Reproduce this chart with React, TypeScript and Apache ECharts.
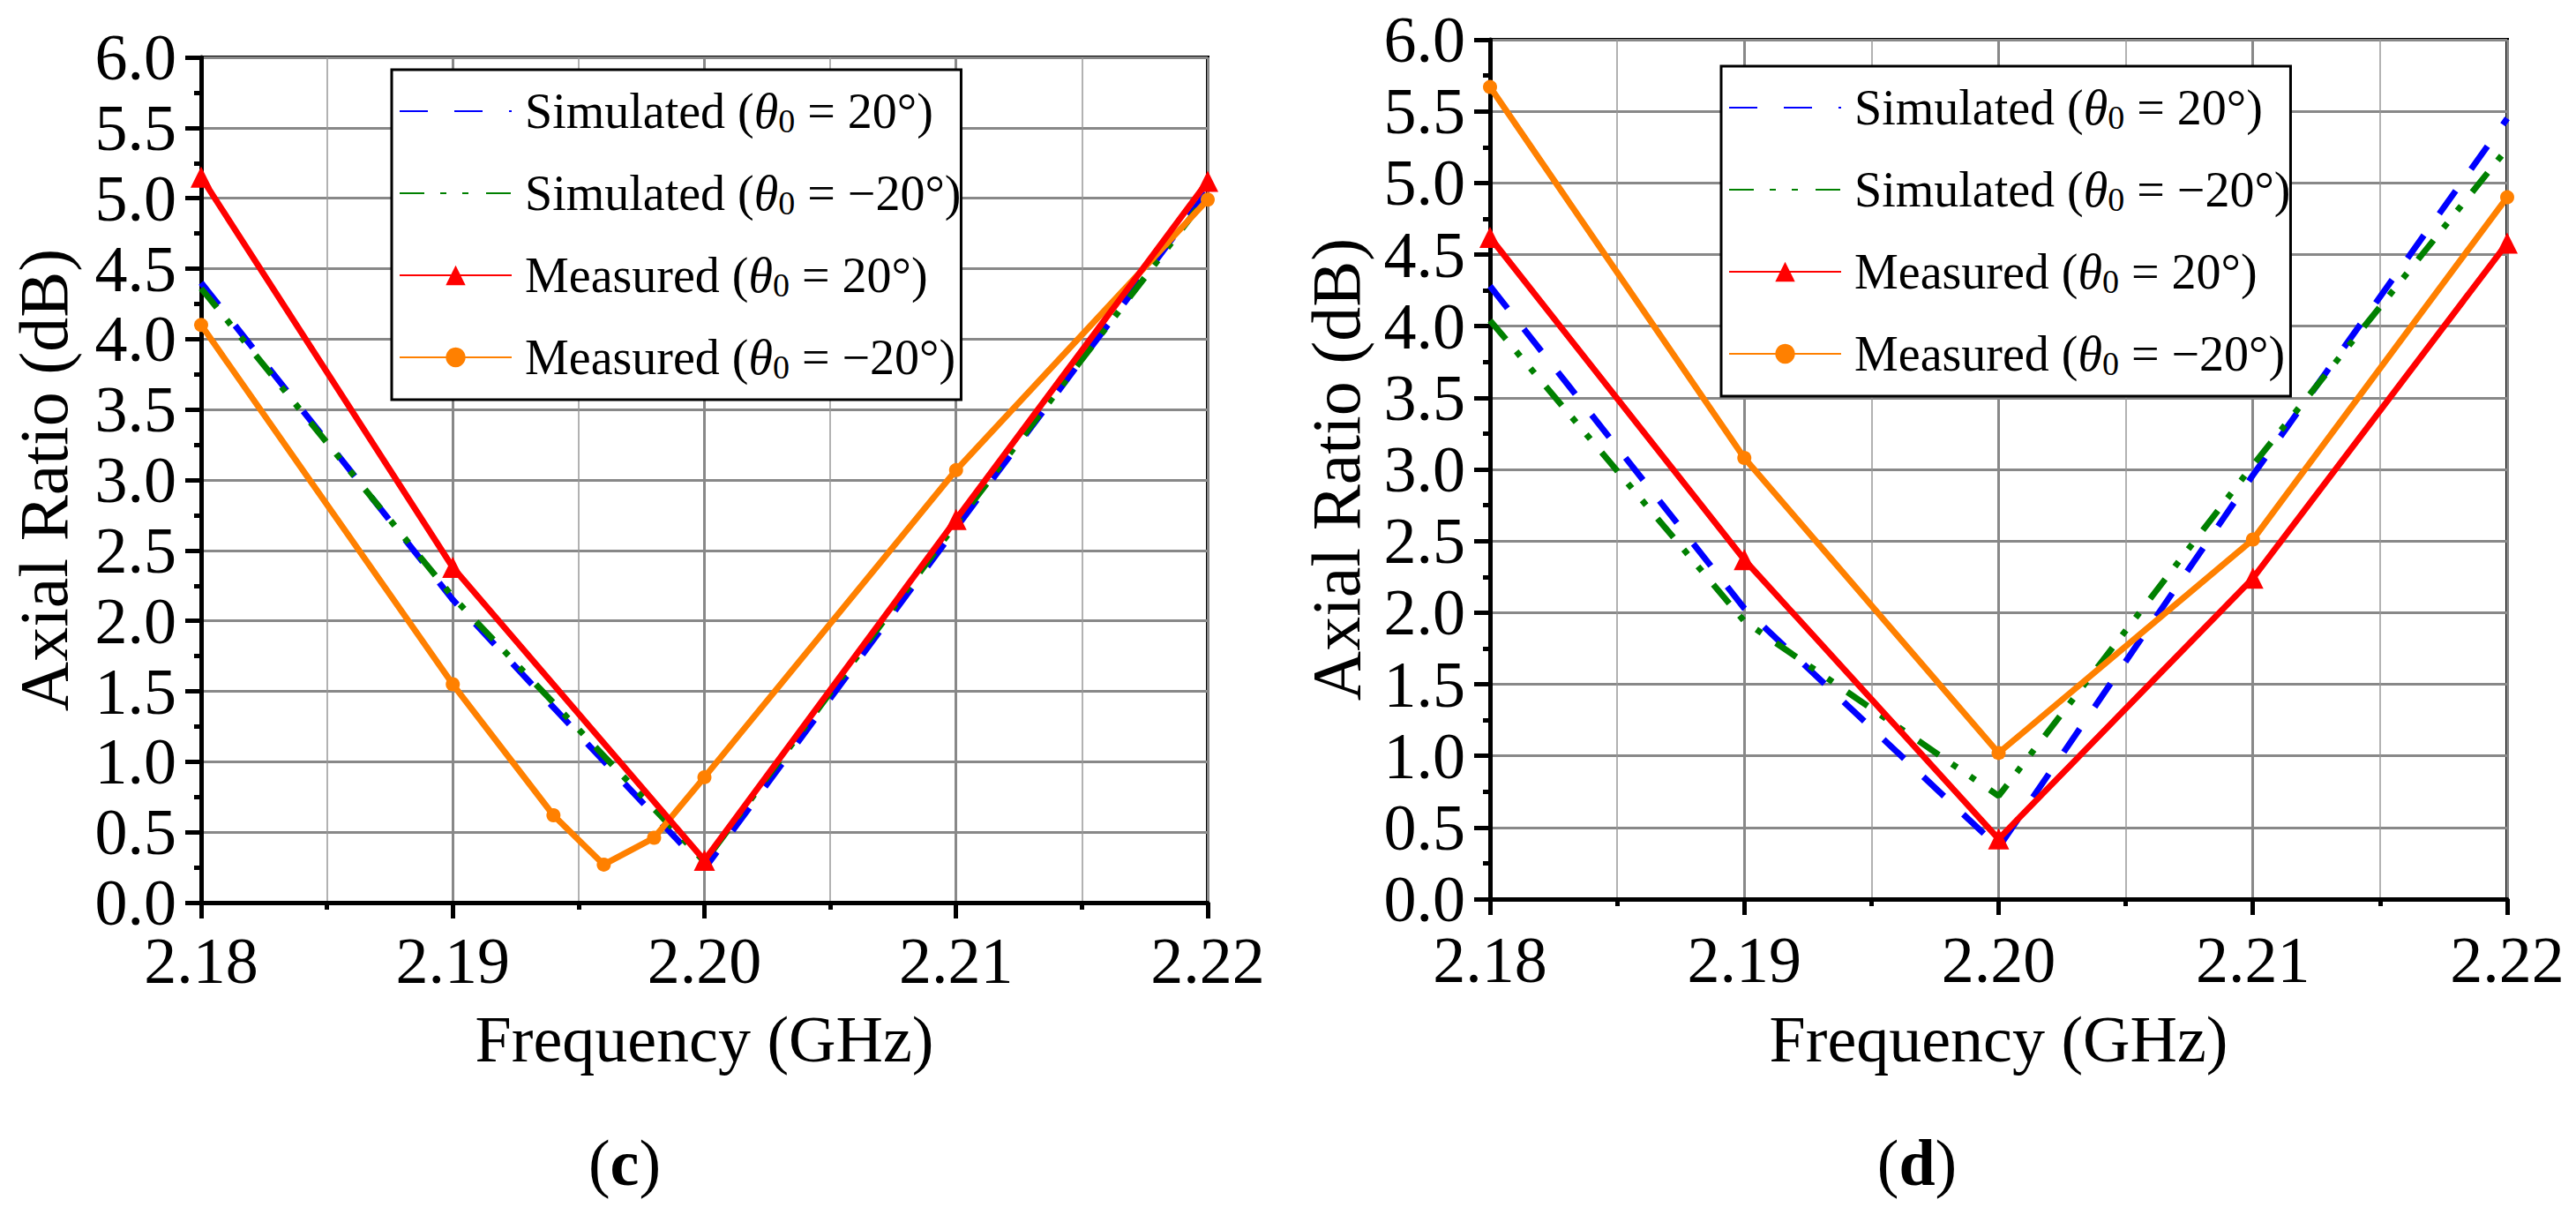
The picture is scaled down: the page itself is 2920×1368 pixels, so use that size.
import { useEffect, useRef } from "react";
import * as echarts from "echarts";

const FONT = "'Liberation Serif', 'Times New Roman', serif";

// shared axes
const freq = [2.18, 2.19, 2.2, 2.21, 2.22];
const xMin = 2.18;
const xMax = 2.22;
const xStep = 0.01;
const yMin = 0;
const yMax = 6;
const yStep = 0.5;

const seriesNames = [
  "Simulated (θ0 = 20°)",
  "Simulated (θ0 = −20°)",
  "Measured (θ0 = 20°)",
  "Measured (θ0 = −20°)",
];

// panel (c)
const simPosC = [4.4, 2.15, 0.24, 2.66, 5.05];
const simNegC = [4.36, 2.17, 0.29, 2.69, 5.02];
const measPosC = [5.15, 2.38, 0.3, 2.72, 5.12];
const measNegFreqC = [2.18, 2.19, 2.194, 2.196, 2.198, 2.2, 2.21, 2.22];
const measNegC = [4.1, 1.55, 0.62, 0.27, 0.46, 0.89, 3.07, 4.99];

// panel (d)
const simPosD = [4.28, 2.03, 0.36, 2.96, 5.45];
const simNegD = [4.04, 1.94, 0.72, 3.03, 5.24];
const measPosD = [4.62, 2.37, 0.42, 2.24, 4.58];
const measNegD = [5.67, 3.08, 1.02, 2.51, 4.9];

const BLUE = "#0000ff";
const GREEN = "#008000";
const RED = "#ff0000";
const ORANGE = "#ff8000";

const pairs = (xs: number[], ys: number[]) => xs.map((x, i) => [x, ys[i]]);

const xAxisFor = (gridIndex: number, nameGap: number, margin: number) => ({
  type: "value",
  gridIndex,
  min: xMin,
  max: xMax,
  interval: xStep,
  name: "Frequency (GHz)",
  nameLocation: "middle",
  nameGap,
  nameTextStyle: { fontFamily: FONT, fontSize: 74, color: "#000" },
  axisLine: { show: true, onZero: false, lineStyle: { color: "#000", width: 5 } },
  axisTick: { show: true, inside: false, length: 18, lineStyle: { color: "#000", width: 5 } },
  minorTick: { show: true, splitNumber: 2, length: 8, lineStyle: { color: "#000", width: 5 } },
  axisLabel: {
    fontFamily: FONT,
    fontSize: 74,
    lineHeight: 56,
    color: "#000",
    margin,
    formatter: (v: number) => v.toFixed(2),
  },
  splitLine: { show: true, lineStyle: { color: "#888", width: 3 } },
  minorSplitLine: { show: true, lineStyle: { color: "#999", width: 1.5 } },
});

const yAxisFor = (gridIndex: number, nameGap: number) => ({
  type: "value",
  gridIndex,
  min: yMin,
  max: yMax,
  interval: yStep,
  name: "Axial Ratio (dB)",
  nameLocation: "middle",
  nameGap,
  nameTextStyle: { fontFamily: FONT, fontSize: 78, color: "#000" },
  axisLine: { show: true, onZero: false, lineStyle: { color: "#000", width: 5 } },
  axisTick: { show: true, inside: false, length: 18, lineStyle: { color: "#000", width: 5 } },
  minorTick: { show: true, splitNumber: 2, length: 8, lineStyle: { color: "#000", width: 5 } },
  axisLabel: {
    fontFamily: FONT,
    fontSize: 74,
    lineHeight: 56,
    color: "#000",
    margin: 28,
    formatter: (v: number) => v.toFixed(1),
  },
  splitLine: { show: true, lineStyle: { color: "#888", width: 3 } },
  minorSplitLine: { show: false },
});

const lineSeries = (
  name: string,
  idx: number,
  data: number[][],
  color: string,
  dash: any,
  symbol: string,
  symbolSize: number
) => ({
  name,
  type: "line",
  xAxisIndex: idx,
  yAxisIndex: idx,
  data,
  symbol,
  symbolSize,
  showSymbol: symbol !== "none",
  clip: true,
  lineStyle: { color, width: 7, type: dash },
  itemStyle: { color },
});

const DASH = [32, 30];
const DASH_DOT_DOT = [28, 18, 7, 18, 7, 20];

const legendFor = (left: number, top: number) => ({
  data: [
    { name: seriesNames[0], itemStyle: { opacity: 0 } },
    { name: seriesNames[1], itemStyle: { opacity: 0 } },
    { name: seriesNames[2] },
    { name: seriesNames[3] },
  ],
  orient: "vertical",
  left,
  top,
  itemWidth: 127,
  itemHeight: 28,
  itemGap: 33,
  padding: [17, 0, 18, 8],
  borderColor: "#000",
  borderWidth: 3,
  backgroundColor: "#fff",
  selectedMode: false,
  formatter: (name: string) => name.replace("θ0", "{th|θ}{sub|0}"),
  textStyle: {
    fontFamily: FONT,
    fontSize: 56,
    color: "#000",
    lineHeight: 60,
    padding: [0, 0, 0, 10],
    rich: {
      th: { fontFamily: FONT, fontSize: 56, fontStyle: "italic", color: "#000", lineHeight: 60 },
      sub: {
        fontFamily: FONT,
        fontSize: 38,
        color: "#000",
        lineHeight: 18,
        verticalAlign: "bottom",
      },
    },
  },
});

const panelLabel = (x: number, letter: string) => ({
  type: "text",
  x,
  y: 1318,
  style: {
    text: `({b|${letter}})`,
    fontFamily: FONT,
    fontSize: 74,
    fill: "#000",
    align: "center",
    verticalAlign: "middle",
    rich: { b: { fontFamily: FONT, fontSize: 74, fontWeight: "bold", fill: "#000" } },
  },
});

export default function App() {
  const chartRef = useRef<HTMLDivElement>(null);

  useEffect(() => {
    if (!chartRef.current) return;
    const chart = echarts.init(chartRef.current, undefined, { renderer: "svg" });

    const option: any = {
      animation: false,
      backgroundColor: "#fff",
      grid: [
        { left: 228, top: 65, width: 1141, height: 958, show: true, borderColor: "#000", borderWidth: 4, backgroundColor: "transparent" },
        { left: 1689, top: 45, width: 1153, height: 974, show: true, borderColor: "#000", borderWidth: 4, backgroundColor: "transparent" },
      ],
      xAxis: [xAxisFor(0, 118, 38), xAxisFor(1, 122, 41)],
      yAxis: [yAxisFor(0, 140), yAxisFor(1, 136)],
      legend: [legendFor(444, 79), legendFor(1951, 75)],
      series: [
        lineSeries(seriesNames[0], 0, pairs(freq, simPosC), BLUE, DASH, "none", 0),
        lineSeries(seriesNames[1], 0, pairs(freq, simNegC), GREEN, DASH_DOT_DOT, "none", 0),
        lineSeries(seriesNames[3], 0, pairs(measNegFreqC, measNegC), ORANGE, "solid", "circle", 16),
        lineSeries(seriesNames[2], 0, pairs(freq, measPosC), RED, "solid", "triangle", 24),
        lineSeries(seriesNames[0], 1, pairs(freq, simPosD), BLUE, DASH, "none", 0),
        lineSeries(seriesNames[1], 1, pairs(freq, simNegD), GREEN, DASH_DOT_DOT, "none", 0),
        lineSeries(seriesNames[3], 1, pairs(freq, measNegD), ORANGE, "solid", "circle", 16),
        lineSeries(seriesNames[2], 1, pairs(freq, measPosD), RED, "solid", "triangle", 24),
      ],
      graphic: [panelLabel(708, "c"), panelLabel(2173, "d")],
    };

    chart.setOption(option);
    return () => {
      chart.dispose();
    };
  }, []);

  return (
    <div
      ref={chartRef}
      style={{ position: "fixed", left: 0, top: 0, width: 2920, height: 1368, background: "#fff" }}
    />
  );
}
